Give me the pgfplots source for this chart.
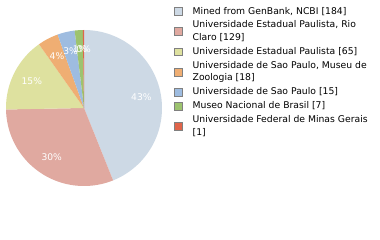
\documentclass[border=0pt]{standalone}
\usepackage{fontspec}
\setmainfont{DejaVu Sans}
\usepackage{pgfplots}
\pgfplotsset{compat=1.18}
\definecolor{c1}{HTML}{CDD9E5}
\definecolor{c2}{HTML}{E0A9A0}
\definecolor{c3}{HTML}{DEE19F}
\definecolor{c4}{HTML}{EFAE73}
\definecolor{c5}{HTML}{9EBCE0}
\definecolor{c6}{HTML}{9DC36F}
\definecolor{c7}{HTML}{E0654A}
\newcommand{\pctfont}{\fontsize{9.2}{10}\selectfont}
\newcommand{\lgn}[1]{\begin{tabular}{@{}l@{}}#1\end{tabular}}
\def\total{419}
\def\cum{0}
\newcommand{\slice}[2]{%
  \pgfmathsetmacro{\aE}{90-(\cum/\total)*360}%
  \pgfmathsetmacro{\newcum}{\cum+#1}%
  \pgfmathsetmacro{\aS}{90-(\newcum/\total)*360}%
  \xdef\cum{\newcum}%
  \edef\tmp{\noexpand\addplot[fill=#2, draw=none, domain=\aS:\aE, samples=90] ({cos(x)},{sin(x)}) -- (axis cs:0,0) -- cycle;}%
  \tmp
}
\newcommand{\plabel}[1]{%
  \pgfmathsetmacro{\aE}{90-(\cum/\total)*360}%
  \pgfmathsetmacro{\newcum}{\cum+#1}%
  \pgfmathsetmacro{\aS}{90-(\newcum/\total)*360}%
  \xdef\cum{\newcum}%
  \pgfmathsetmacro{\aM}{(\aS+\aE)/2}%
  \pgfmathtruncatemacro{\pc}{(#1/\total)*100}%
  \edef\tmp{\noexpand\node[text=white, font=\noexpand\pctfont, inner sep=0pt] at (axis cs:{0.75*cos(\aM)},{0.75*sin(\aM)}) {\pc\noexpand\%};}%
  \tmp
}
\begin{document}
\begin{tikzpicture}
\fill[white] (0,0) rectangle (380bp,-240bp);
\begin{axis}[
  at={(6bp,-186bp)}, anchor=south west,
  x=78bp, y=78bp,
  xmin=-1, xmax=1, ymin=-1, ymax=1,
  hide axis, clip=false,
  legend cell align=left,
  legend image code/.code={\draw[#1, draw=gray, line width=0.9bp] (0bp,-3.8bp) rectangle (7.6bp,3.8bp);},
  legend style={at={(1.0769,1.160)}, anchor=north west, draw=none, fill=none,
    inner sep=0pt, row sep=1.4bp, column sep=10bp,
    nodes={inner sep=0pt, text height=, text depth=},
    font=\fontsize{9.3}{12.6}\selectfont},
]
\slice{184}{c1}\addlegendentry{\lgn{Mined from GenBank, NCBI [184]}}
\slice{129}{c2}\addlegendentry{\lgn{Universidade Estadual Paulista, Rio\\Claro [129]}}
\slice{65}{c3}\addlegendentry{\lgn{Universidade Estadual Paulista [65]}}
\slice{18}{c4}\addlegendentry{\lgn{Universidade de Sao Paulo, Museu de\\Zoologia [18]}}
\slice{15}{c5}\addlegendentry{\lgn{Universidade de Sao Paulo [15]}}
\slice{7}{c6}\addlegendentry{\lgn{Museo Nacional de Brasil [7]}}
\slice{1}{c7}\addlegendentry{\lgn{Universidade Federal de Minas Gerais\\{[1]}}}
\gdef\cum{0}
\plabel{184}
\plabel{129}
\plabel{65}
\plabel{18}
\plabel{15}
\plabel{7}
\plabel{1}
\end{axis}
\end{tikzpicture}
\end{document}
